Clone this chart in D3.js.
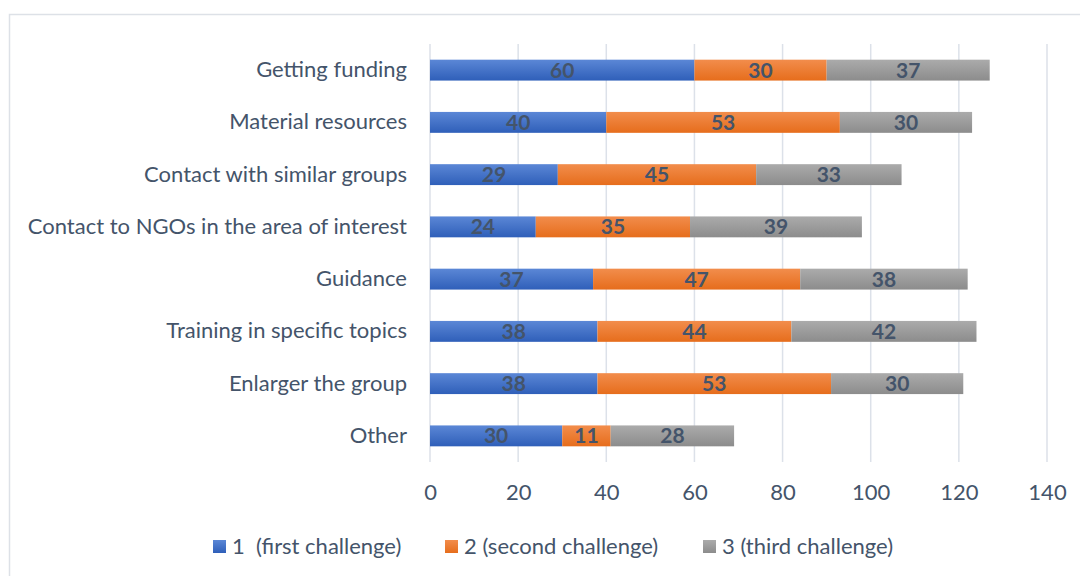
<!DOCTYPE html>
<html>
<head>
<meta charset="utf-8">
<script src="https://cdn.jsdelivr.net/npm/d3@7"></script>
<style>
  body { margin: 0; background: #fff; }
  text { font-family: Lato, "Open Sans", sans-serif; fill: #44546a; white-space: pre; }
</style>
</head>
<body>
<svg id="chart"></svg>
<script>
"use strict";
// data
var categories = [
  "Getting funding",
  "Material resources",
  "Contact with similar groups",
  "Contact to NGOs in the area of interest",
  "Guidance",
  "Training in specific topics",
  "Enlarger the group",
  "Other"
];
var first = [60, 40, 29, 24, 37, 38, 38, 30];
var second = [30, 53, 45, 35, 47, 44, 53, 11];
var third = [37, 30, 33, 39, 38, 42, 30, 28];
var seriesNames = ["1  (first challenge)", "2 (second challenge)", "3 (third challenge)"];
var xTicks = [0, 20, 40, 60, 80, 100, 120, 140];

var width = 1080, height = 576;
var marginTop = 44, marginLeft = 430, plotRight = 1047, plotBottom = 462;
var fontSize = "22px";

var svg = d3.select("#chart").attr("width", width).attr("height", height);

// gradients like the office fill
var grads = [
  { id: "g1", top: "#5b87d6", bot: "#2f5fb9" },
  { id: "g2", top: "#f28d4c", bot: "#e66d1c" },
  { id: "g3", top: "#ababab", bot: "#8c8c8c" }
];
var defs = svg.append("defs");
grads.forEach(function (g) {
  var lg = defs.append("linearGradient").attr("id", g.id)
    .attr("x1", 0).attr("y1", 0).attr("x2", 0).attr("y2", 1);
  lg.append("stop").attr("offset", "0%").attr("stop-color", g.top);
  lg.append("stop").attr("offset", "100%").attr("stop-color", g.bot);
});

// outer frame
svg.append("rect")
  .attr("x", 9.5).attr("y", 14.5)
  .attr("width", 1100).attr("height", 600)
  .attr("fill", "none")
  .attr("stroke", "#dde1e7")
  .attr("stroke-width", 1.5);

var xScale = d3.scaleLinear().domain([0, 140]).range([marginLeft, plotRight]);
var yScale = d3.scaleBand().domain(categories).range([marginTop, plotBottom]).paddingInner(0.6).paddingOuter(0.3);

// grid
svg.append("g")
  .selectAll("line")
  .data(xTicks)
  .enter()
  .append("line")
  .attr("x1", (d) => xScale(d))
  .attr("x2", (d) => xScale(d))
  .attr("y1", marginTop)
  .attr("y2", plotBottom)
  .attr("stroke", "#dce1e9")
  .attr("stroke-width", 1.5);

// stacked series
var rows = categories.map(function (c, i) {
  return { cat: c, s0: first[i], s1: second[i], s2: third[i] };
});
var stack = d3.stack().keys(["s0", "s1", "s2"])(rows);

var layers = svg.selectAll(".layer")
  .data(stack)
  .enter()
  .append("g")
  .attr("class", "layer")
  .attr("fill", (d, i) => "url(#" + grads[i].id + ")");

layers.selectAll("rect")
  .data((d) => d)
  .enter()
  .append("rect")
  .attr("x", (d) => xScale(d[0]))
  .attr("y", (d) => yScale(d.data.cat))
  .attr("width", (d) => xScale(d[1]) - xScale(d[0]))
  .attr("height", yScale.bandwidth());

layers.selectAll("text")
  .data((d) => d)
  .enter()
  .append("text")
  .attr("x", (d) => (xScale(d[0]) + xScale(d[1])) / 2)
  .attr("y", (d) => yScale(d.data.cat) + yScale.bandwidth() / 2)
  .attr("dy", "0.36em")
  .attr("text-anchor", "middle")
  .style("font-weight", "bold")
  .style("font-size", "21px")
  .text((d) => d[1] - d[0]);

// category labels
var yAxis = d3.axisLeft(yScale).tickSize(0).tickPadding(23);
svg.append("g")
  .attr("transform", `translate(${marginLeft},0)`)
  .call(yAxis)
  .call((g) => g.select(".domain").remove())
  .call((g) => g.selectAll("text")
    .attr("fill", "#44546a")
    .style("font-size", fontSize)
    .style("font-family", "Lato, sans-serif"));

// x axis labels
var xAxis = d3.axisBottom(xScale).tickValues(xTicks).tickSize(0).tickPadding(22);
svg.append("g")
  .attr("transform", `translate(0,${plotBottom})`)
  .call(xAxis)
  .call((g) => g.select(".domain").remove())
  .call((g) => g.selectAll("text")
    .attr("fill", "#44546a")
    .style("font-size", fontSize)
    .style("font-family", "Lato, sans-serif"));

// legend
var legendX = [213, 445, 703];
var legend = svg.selectAll(".legend")
  .data(seriesNames)
  .enter()
  .append("g")
  .attr("class", "legend")
  .attr("transform", (d, i) => `translate(${legendX[i]},546)`);
legend.append("rect")
  .attr("x", 0).attr("y", -6)
  .attr("width", 13).attr("height", 13)
  .attr("fill", (d, i) => "url(#" + grads[i].id + ")");
legend.append("text")
  .attr("x", 19)
  .attr("y", 0)
  .attr("dy", "0.36em")
  .style("font-size", fontSize)
  .text((d) => d);
</script>
</body>
</html>
